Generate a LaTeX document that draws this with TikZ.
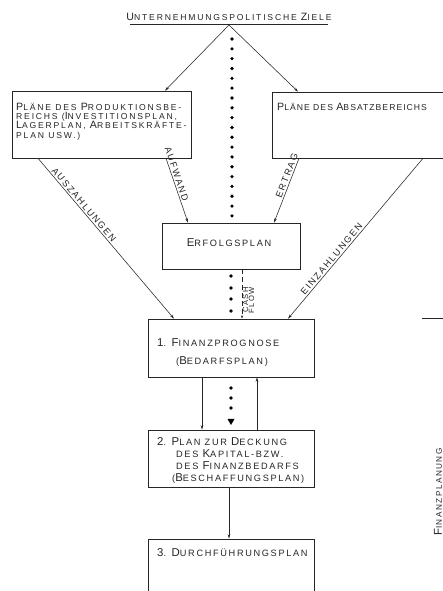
\documentclass[tikz,border=0pt]{standalone}
\usepackage{fontspec}
\usetikzlibrary{arrows.meta,calc}
\setmainfont{Liberation Sans}
\newfontfamily\lett[LetterSpace=18]{Liberation Sans}
\newfontfamily\lettw[LetterSpace=21]{Liberation Sans}
\newfontfamily\lettn[LetterSpace=12]{Liberation Sans}
\newcommand\K[1]{{\fontsize{11.4}{10}\selectfont #1}}
\newcommand\Ks[1]{{\fontsize{10.6}{10}\selectfont #1}}
\definecolor{ink}{HTML}{262626}
\begin{document}
\begin{tikzpicture}[x=1pt,y=1pt,
  box/.style={draw=ink,line width=0.6pt,minimum width=166pt,inner sep=0pt},
  txt/.style={anchor=base west,inner sep=0pt,text=ink,font=\lett\fontsize{9.2}{8.5}\selectfont},
  txs/.style={txt,font=\lettw\fontsize{8.6}{8.5}\selectfont},
  lab/.style={inner sep=1.5pt,text=ink,font=\lett\fontsize{9.2}{8}\selectfont},
  con/.style={draw=ink,line width=0.55pt},
  arr/.style={con,-{Stealth[length=4.5pt,width=2.6pt]}},
  dot/.style={fill=black}]
\useasboundingbox (0,0) rectangle (443,591);
\clip (0,0) rectangle (443,591);
\fill[white] (0,0) rectangle (443,591);

% title
\node[txs,anchor=base] (title) at (229,570) {\Ks{U}NTERNEHMUNGSPOLITISCHE \Ks{Z}IELE};
\draw[con] (130,566.5) -- (328,566.5);
\coordinate (apex) at (229,566);

% boxes
\node[box,minimum width=179pt,minimum height=67pt] (lb) at (101.5,466.5) {};
\node[box,minimum width=208pt,minimum height=66pt] (rb) at (376,466) {};
\node[box,minimum width=138pt,minimum height=46pt] (ep) at (231,345) {};
\node[box,minimum height=58pt] (f1) at (231,243) {};
\node[box,minimum height=57pt] (f2) at (231,132.5) {};
\node[box,minimum height=61pt] (f3) at (231,21.5) {};

% box texts
\node[txs] (lb1) at (16,480.5) {\Ks{P}LÄNE DES \Ks{P}RODUKTIONSBE-};
\node[txs] (lb2) at (16,471.3) {REICHS (\Ks{I}NVESTITIONSPLAN,};
\node[txs] (lb3) at (16,462.1) {\Ks{L}AGERPLAN, \Ks{A}RBEITSKRÄFTE-};
\node[txs] (lb4) at (16,452.9) {PLAN USW.)};
\node[txs,font=\lettn\fontsize{8.6}{8.5}\selectfont] (rb1) at (277,480.5) {\Ks{P}LÄNE DES \Ks{A}BSATZBEREICHS};
\node[txt,anchor=base] (ep1) at (229,344) {\K{E}RFOLGSPLAN};
\node[txt] (f1a) at (157,244) {\K{1}. \K{F}INANZPROGNOSE};
\node[txt] (f1b) at (176,226) {(\K{B}EDARFSPLAN)};
\node[txt] (f2a) at (157,145) {\K{2}. \K{P}LAN ZUR \K{D}ECKUNG};
\node[txt] (f2b) at (176,133) {DES \K{K}APITAL-BZW.};
\node[txt] (f2c) at (176,121) {DES \K{F}INANZBEDARFS};
\node[txt] (f2d) at (172,109) {(\K{B}ESCHAFFUNGSPLAN)};
\node[txt] (f3a) at (157,34) {\K{3}. \K{D}URCHFÜHRUNGSPLAN};

% side label
\node[txt,anchor=center,rotate=90,font=\lett\fontsize{8.2}{8}\selectfont] (fp) at (438,99) {\K{F}INANZPLANUNG};
\coordinate (sl) at (422,273);
\draw[con] (sl) -- (443,273);

% arrows from the goals
\draw[arr] (apex) -- ([xshift=63.5pt]lb.north);
\draw[arr] (apex) -- ([xshift=-78pt]rb.north);

% flows
\draw[arr] ([xshift=-63.5pt]lb.south) -- node[lab,sloped,above,pos=0.31] (l1) {AUSZAHLUNGEN} ([xshift=-57pt]f1.north);
\draw[arr] ([xshift=64.5pt]lb.south) -- node[lab,sloped,above,pos=0.27] (l2) {AUFWAND} ([xshift=-43pt]ep.north);
\draw[arr] ([xshift=-77pt]rb.south) -- node[lab,sloped,above,pos=0.3] (l3) {ERTRAG} ([xshift=43pt]ep.north);
\draw[arr] ([xshift=47pt]rb.south) -- node[lab,sloped,above,pos=0.65] (l4) {EINZAHLUNGEN} ([xshift=57pt]f1.north);
\draw[con,dashed,dash pattern=on 5pt off 3pt,-{Stealth[length=3.5pt,width=2.2pt]}] ([xshift=11pt]ep.south) -- ([xshift=11pt]f1.north);
\node[lab,rotate=90,align=center,inner sep=0pt,font=\lett\fontsize{7.6}{6.2}\selectfont] (cf) at (248.5,291) {CASH\\FLOW};

\draw[arr] ([xshift=-29pt]f1.south) -- ([xshift=-29pt]f2.north);
\draw[arr] ([xshift=26pt]f2.north) -- ([xshift=26pt]f1.south);
\draw[arr] ([xshift=-2pt]f2.south) -- ([xshift=-2pt]f3.north);

% dotted lines
\foreach \i in {0,...,18} \fill[dot] (232,{552-9.83*\i}) circle (1.8pt);
\foreach \yy in {315,303,292,280} \fill[dot] (231,\yy) circle (1.8pt);
\foreach \yy in {203,193,183} \fill[dot] (231,\yy) circle (1.8pt);
\fill[dot] (227.5,172) -- (234.5,172) -- (231,166) -- cycle;
\end{tikzpicture}
\end{document}
